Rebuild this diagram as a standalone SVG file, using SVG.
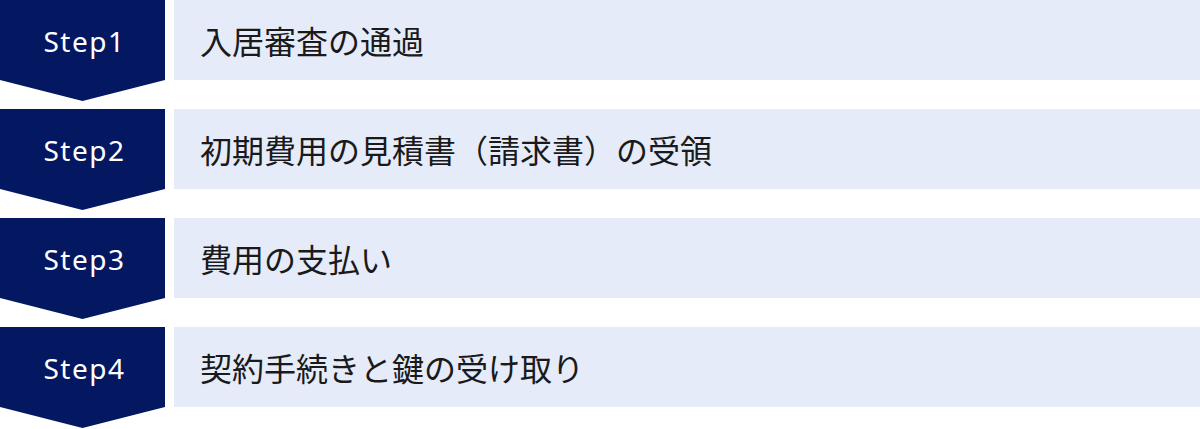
<svg xmlns="http://www.w3.org/2000/svg" width="1200" height="429" viewBox="0 0 1200 429">
<style>
.badge{fill:#041862}
.bar{fill:#E5EBF8}
.step{font-family:"Noto Sans","Liberation Sans",sans-serif;font-size:28px;fill:#FFFFFF;letter-spacing:1.5px;text-anchor:middle}
.label{font-family:"Noto Sans CJK JP","Noto Sans",sans-serif;font-size:32px;fill:#1A1A1A}
</style>
<rect width="1200" height="429" fill="#FFFFFF"/>
<g id="step1">
<polygon class="badge" points="0,0 165,0 165,80 82.5,101 0,80"/>
<rect class="bar" x="174" y="0" width="1026" height="80"/>
<text class="step" x="84.5" y="52">Step1</text>
<text class="label" x="200" y="54">入居審査の通過</text>
</g>
<g id="step2">
<polygon class="badge" points="0,109 165,109 165,189 82.5,210 0,189"/>
<rect class="bar" x="174" y="109" width="1026" height="80"/>
<text class="step" x="84.5" y="161">Step2</text>
<text class="label" x="200" y="163">初期費用の見積書（請求書）の受領</text>
</g>
<g id="step3">
<polygon class="badge" points="0,218 165,218 165,298 82.5,319 0,298"/>
<rect class="bar" x="174" y="218" width="1026" height="80"/>
<text class="step" x="84.5" y="270">Step3</text>
<text class="label" x="200" y="272">費用の支払い</text>
</g>
<g id="step4">
<polygon class="badge" points="0,327 165,327 165,407 82.5,428 0,407"/>
<rect class="bar" x="174" y="327" width="1026" height="80"/>
<text class="step" x="84.5" y="379">Step4</text>
<text class="label" x="200" y="381">契約手続きと鍵の受け取り</text>
</g>
<g id="connectors"></g>
</svg>
